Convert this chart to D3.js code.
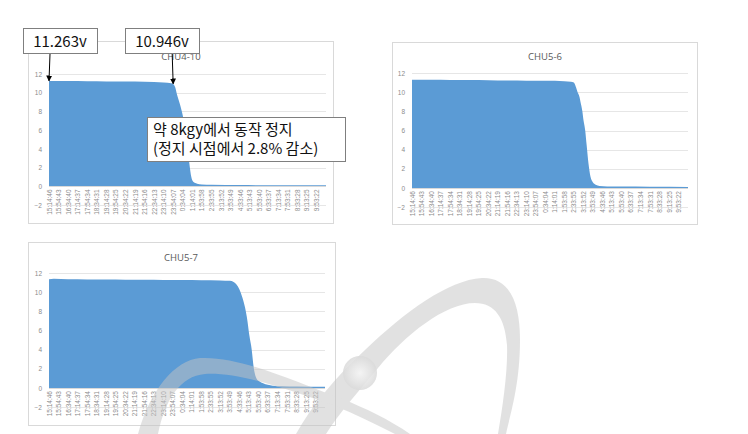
<!DOCTYPE html>
<html>
<head>
<meta charset="utf-8">
<script src="https://cdn.jsdelivr.net/npm/d3@7"></script>
<style>
  html, body { margin: 0; padding: 0; background: #ffffff; }
  svg { display: block; }
</style>
</head>
<body>
<svg id="root" width="748" height="434"></svg>
<script>
// ---------------- DATA ----------------
const timeLabels = ["15:14:46","15:54:43","16:34:40","17:14:37","17:54:34","18:34:31","19:14:28",
  "19:54:25","20:34:22","21:14:19","21:54:16","22:34:13","23:14:10","23:54:07","0:34:04",
  "1:14:01","1:53:58","2:33:55","3:13:52","3:53:49","4:33:46","5:13:43","5:53:40","6:33:37",
  "7:13:34","7:53:31","8:33:28","9:13:25","9:53:22"];
const yTicks = [-2, 0, 2, 4, 6, 8, 10, 12];
const chartTitles = ["CHU4-10", "CHU5-6", "CHU5-7"];

// elapsed time in label steps, voltage (V)
const chu410Time = [0, 2, 4, 6, 8, 10, 12, 12.8, 13.0, 13.2, 13.4, 13.7, 14.0, 14.3, 14.5, 14.7, 14.9, 15.1, 15.5, 16, 17, 20, 24, 29];
const chu410Volt = [11.263, 11.25, 11.23, 11.21, 11.19, 11.16, 11.1, 11.02, 10.946, 10.6, 9.8, 8.8, 7.6, 5.8, 4.2, 2.4, 1.0, 0.5, 0.3, 0.22, 0.18, 0.15, 0.13, 0.12];

const chu56Time = [0, 2, 4, 6, 8, 10, 12, 14, 16, 16.7, 17.0, 17.2, 17.4, 17.6, 17.7, 17.9, 18.0, 18.2, 18.35, 18.55, 18.75, 19.0, 19.3, 19.7, 20.5, 22, 25, 29];
const chu56Volt = [11.3, 11.3, 11.28, 11.27, 11.25, 11.22, 11.2, 11.18, 11.15, 11.1, 11.0, 10.6, 10.0, 9.5, 9.0, 8.0, 7.2, 6.0, 4.5, 2.5, 1.2, 0.6, 0.35, 0.22, 0.17, 0.15, 0.13, 0.12];

const chu57Time = [0, 0.5, 2, 4, 6, 8, 10, 12, 14, 16, 18, 19.0, 19.4, 19.7, 20.0, 20.3, 20.6, 20.85, 21.05, 21.3, 21.5, 21.8, 22.1, 22.5, 23.0, 23.5, 24.5, 26, 29];
const chu57Volt = [11.35, 11.4, 11.35, 11.33, 11.32, 11.3, 11.3, 11.28, 11.27, 11.25, 11.22, 11.18, 11.05, 10.8, 10.3, 9.5, 8.4, 7.0, 5.5, 4.0, 2.2, 1.0, 0.7, 0.5, 0.33, 0.25, 0.18, 0.15, 0.13];

const annoValues = ["11.263v", "10.946v"];
const annoNote = ["약 8kgy에서 동작 정지", "(정지 시점에서 2.8% 감소)"];

// ---------------- DRAW ----------------
const svg = d3.select("#root");
const BLUE = "#5b9bd5";
const defs = svg.append("defs");

function drawChart(cfg) {
  const g = svg.append("g");
  g.append("rect")
    .attr("x", cfg.box.x + 0.5).attr("y", cfg.box.y + 0.5)
    .attr("width", cfg.box.w).attr("height", cfg.box.h)
    .attr("fill", "#fff").attr("stroke", "#d9d9d9").attr("stroke-width", 1);

  const x = d3.scaleLinear().domain([0, 29]).range([cfg.left, cfg.right]);
  const y = d3.scaleLinear().domain([-2, 12]).range([cfg.yBottom, cfg.yTop]);

  const grid = d3.axisLeft(y).tickValues(yTicks.filter(v => v !== 0))
    .tickSize(-(cfg.right - cfg.left)).tickFormat("");
  const gg = g.append("g").attr("transform", `translate(${cfg.left},0)`).call(grid);
  gg.select(".domain").remove();
  gg.selectAll("line").attr("stroke", "#e6e6e6").attr("shape-rendering", "crispEdges");

  const pts = cfg.time.map((t, i) => [t, cfg.volt[i]]);
  const area = d3.area().x(d => x(d[0])).y0(y(0)).y1(d => y(d[1])).curve(d3.curveMonotoneX);
  g.append("path").datum(pts).attr("d", area).attr("fill", BLUE);

  g.append("line").attr("x1", cfg.left).attr("x2", cfg.right)
    .attr("y1", Math.round(y(0)) + 0.5).attr("y2", Math.round(y(0)) + 0.5)
    .attr("stroke", "#d9d9d9");

  const ya = d3.axisLeft(y).tickValues(yTicks).tickSize(0).tickPadding(0);
  const yg = g.append("g").attr("transform", `translate(${cfg.left - 7},0)`).call(ya);
  yg.select(".domain").remove();
  yg.selectAll("text").attr("fill", "#8c8c8c")
    .style("font-family", "Liberation Sans, Arial, sans-serif").style("font-size", "6.5px");

  const xa = d3.axisBottom(x).tickValues(d3.range(timeLabels.length))
    .tickFormat(i => timeLabels[i]).tickSize(0).tickPadding(0);
  const xg = g.append("g").attr("transform", `translate(0,${y(0) + 3})`).call(xa);
  xg.select(".domain").remove();
  xg.selectAll("text")
    .attr("fill", "#8c8c8c")
    .attr("transform", "rotate(-90)")
    .attr("text-anchor", "end")
    .attr("x", 0).attr("y", 0).attr("dy", "0.32em")
    .style("font-family", "Liberation Sans, Arial, sans-serif").style("font-size", "6.5px");

  g.append("text").attr("x", cfg.titleX).attr("y", cfg.titleY)
    .attr("text-anchor", "middle").attr("fill", "#595959")
    .style("font-family", "Open Sans, Liberation Sans, sans-serif").style("font-size", "9.5px")
    .text(cfg.title);
  return { x, y };
}

const c1 = drawChart({ box: {x: 28, y: 41, w: 305, h: 182}, left: 49, right: 326, yTop: 74, yBottom: 205.2,
  titleX: 181, titleY: 60, title: chartTitles[0], time: chu410Time, volt: chu410Volt });
const c2 = drawChart({ box: {x: 392, y: 42, w: 305, h: 182}, left: 412, right: 688, yTop: 73, yBottom: 207.2,
  titleX: 545, titleY: 60, title: chartTitles[1], time: chu56Time, volt: chu56Volt });
const c3 = drawChart({ box: {x: 28, y: 242, w: 307, h: 183}, left: 49, right: 325, yTop: 273, yBottom: 407.2,
  titleX: 181, titleY: 261, title: chartTitles[2], time: chu57Time, volt: chu57Volt });

// ---------------- WATERMARK ----------------
const rg = defs.append("radialGradient").attr("id", "ball").attr("cx", "50%").attr("cy", "50%").attr("r", "50%");
rg.append("stop").attr("offset", "0%").attr("stop-color", "#f7f7f7");
rg.append("stop").attr("offset", "100%").attr("stop-color", "#dadada");

const wm = svg.append("g").attr("opacity", 0.5);
wm.append("path").attr("fill", "#c4c4c4")
  .attr("d", "M 296,434 C 312,405 335,378 365,350 C 405,312 448,280 482,278 C 508,277 520,300 520,340 C 520,385 510,415 506,434 L 498,434 C 503,405 508,370 507,345 C 505,318 495,303 475,303 C 445,303 405,335 378,368 C 358,392 340,412 326,434 Z");
wm.append("path").attr("fill", "#c4c4c4")
  .attr("d", "M 138,434 C 150,390 175,360 200,358 C 240,356 290,380 340,398 C 365,408 390,420 410,434 L 395,434 C 375,424 355,414 335,406 C 290,390 240,372 205,374 C 180,376 165,400 158,434 Z");
svg.append("circle").attr("cx", 360).attr("cy", 373).attr("r", 17).attr("fill", "url(#ball)").attr("opacity", 0.85);

// ---------------- ANNOTATIONS ----------------
const marker = defs.append("marker").attr("id", "arr").attr("viewBox", "0 0 10 10")
  .attr("refX", 9).attr("refY", 5).attr("markerWidth", 6).attr("markerHeight", 6)
  .attr("orient", "auto-start-reverse");
marker.append("path").attr("d", "M0,0 L10,5 L0,10 Z").attr("fill", "#000");

const FONT = "Noto Sans CJK KR, Noto Sans, sans-serif";
function box(xx, yy, w, h) {
  svg.append("rect").attr("x", xx + 0.5).attr("y", yy + 0.5).attr("width", w).attr("height", h)
    .attr("fill", "#fff").attr("stroke", "#7f7f7f").attr("stroke-width", 1);
}
function arrow(x1, y1, x2, y2) {
  svg.append("line").attr("x1", x1).attr("y1", y1).attr("x2", x2).attr("y2", y2)
    .attr("stroke", "#000").attr("stroke-width", 1).attr("marker-end", "url(#arr)");
}
const stopIdx = chu410Volt.indexOf(10.946);
const p1 = [c1.x(chu410Time[0]), c1.y(chu410Volt[0])];
const p2 = [c1.x(chu410Time[stopIdx]), c1.y(chu410Volt[stopIdx])];
box(23, 28, 74, 25);
arrow(p1[0] + 1, 54, p1[0], p1[1]);
svg.append("text").attr("x", 60).attr("y", 46.5).attr("text-anchor", "middle")
  .style("font-family", FONT).style("font-size", "15px").attr("fill", "#111").text(annoValues[0]);
box(125, 28, 74, 25);
arrow(p2[0] - 1, 54, p2[0], p2[1]);
svg.append("text").attr("x", 162).attr("y", 46.5).attr("text-anchor", "middle")
  .style("font-family", FONT).style("font-size", "15px").attr("fill", "#111").text(annoValues[1]);

box(147, 117, 198, 44);
svg.append("text").attr("x", 153).attr("y", 135).style("font-family", FONT).style("font-size", "15px")
  .attr("fill", "#111").text(annoNote[0]);
svg.append("text").attr("x", 153).attr("y", 154).style("font-family", FONT).style("font-size", "15px")
  .attr("fill", "#111").text(annoNote[1]);
</script>
</body>
</html>
